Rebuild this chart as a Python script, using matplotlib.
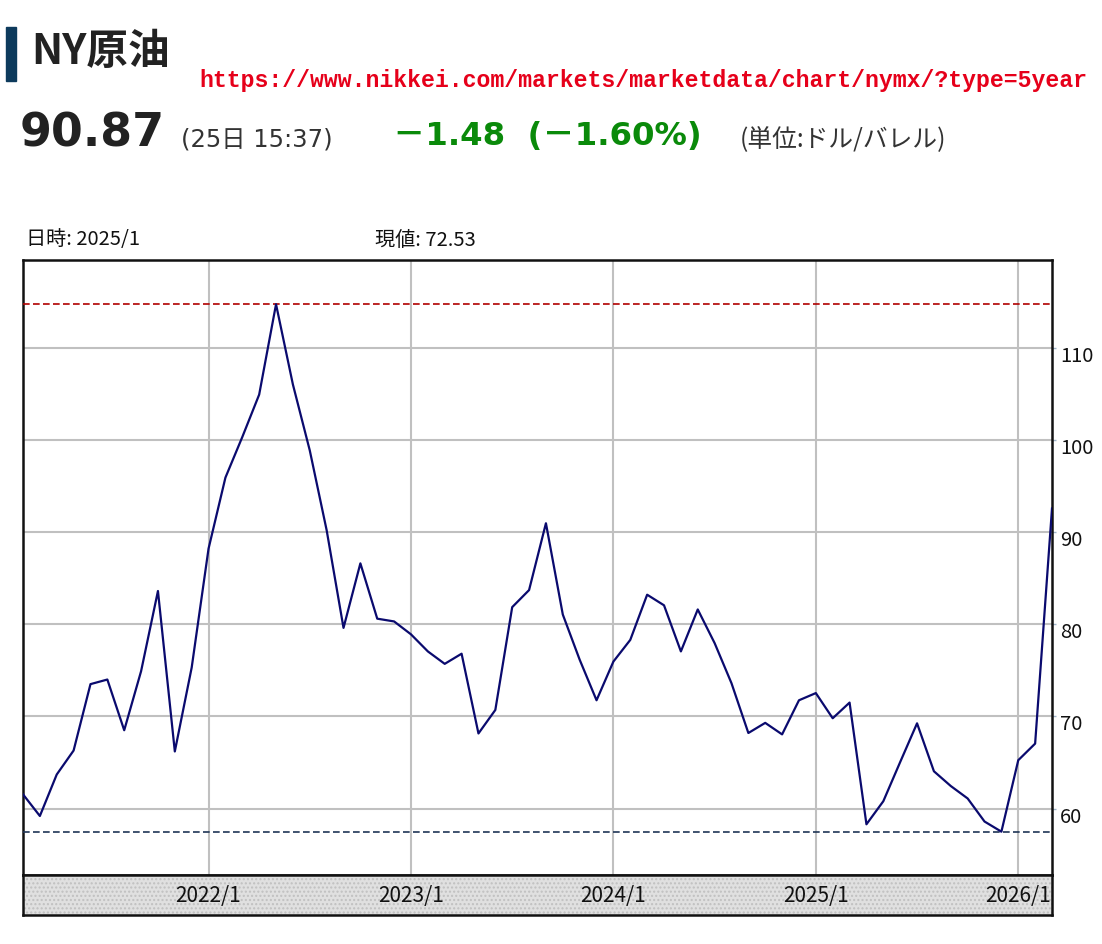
import matplotlib
matplotlib.use("Agg")
import matplotlib.pyplot as plt
from matplotlib.patches import Rectangle
import matplotlib.transforms as mtrans

plt.rcParams['font.family'] = ['Noto Sans CJK JP', 'DejaVu Sans']

# ---- data (monthly, 2021/2 - 2026/3) ----
months = [f"{y}/{m}" for y in range(2021, 2027) for m in range(1, 13)]
months = months[1:months.index("2026/3") + 1]
values = [
    # 2021 Feb-Dec
    61.55, 59.2, 63.7, 66.3, 73.5, 74.0, 68.5, 74.9, 83.6, 66.2, 75.3,
    # 2022
    88.2, 95.9, 100.3, 104.9, 114.7, 106.0, 98.85, 90.2, 79.6, 86.6, 80.6, 80.3,
    # 2023
    78.9, 77.05, 75.7, 76.8, 68.15, 70.7, 81.85, 83.7, 90.95, 81.05, 76.15, 71.75,
    # 2024
    75.95, 78.3, 83.2, 82.05, 77.05, 81.6, 77.95, 73.6, 68.2, 69.3, 68.05, 71.75,
    # 2025
    72.53, 69.8, 71.5, 58.3, 60.8, 65.05, 69.25, 64.05, 62.45, 61.1, 58.6, 57.5,
    # 2026 Jan-Mar
    65.25, 67.05, 92.55,
]
y_ticks = [60, 70, 80, 90, 100, 110]
x_tick_labels = [m for m in months if m.endswith("/1")]

title = "NY原油"
url = "https://www.nikkei.com/markets/marketdata/chart/nymx/?type=5year"
price = "90.87"
stamp = "(25日 15:37)"
change = "－1.48  (－1.60%)"
unit = "(単位:ドル/バレル)"
info_date = "日時: 2025/1"
info_value = "現値: 72.53"

W, H = 1102, 945
fig = plt.figure(figsize=(W / 100, H / 100), dpi=100)
fig.patch.set_facecolor("white")

def fx(px):
    return px / W

def fy(py):
    return 1 - py / H

# ---- header ----
fig.patches.append(Rectangle((fx(6), fy(82)), fx(10) - fx(0), fy(28) - fy(82),
                             transform=fig.transFigure, color="#0d3a5c", zorder=5))
fig.text(fx(31), fy(52), title, fontsize=30, fontweight="bold", color="#222222",
         va="center", ha="left")
fig.text(fx(199), fy(80), url, fontsize=16.7, fontweight="bold", color="#e6001a",
         va="center", ha="left", family=["Liberation Mono", "DejaVu Sans Mono"])
fig.text(fx(20), fy(134), price, fontsize=33, fontweight="bold", color="#222222",
         va="center", ha="left", family=["DejaVu Sans"])
fig.text(fx(181), fy(140), stamp, fontsize=17.5, color="#333333", va="center", ha="left",
         family=["DejaVu Sans", "Noto Sans CJK JP"])
fig.text(fx(393), fy(137), change, fontsize=23.3, fontweight="bold", color="#0a8a0a",
         va="center", ha="left", family=["DejaVu Sans", "Noto Sans CJK JP"])
fig.text(fx(740), fy(140), unit, fontsize=17.8, color="#333333", va="center", ha="left")
fig.text(fx(26), fy(240), info_date, fontsize=14.5, color="#111111", va="center", ha="left")
fig.text(fx(375), fy(240), info_value, fontsize=14.5, color="#111111", va="center", ha="left")

# ---- main chart ----
left, right, top, bottom = 23, 1052, 261, 876
ax = fig.add_axes([fx(left), fy(bottom), fx(right) - fx(left), fy(top) - fy(bottom)])
x = list(range(len(values)))
ax.plot(x, values, color="#0a0a6e", lw=1.6, zorder=4)
ax.axhline(max(values), color="#b00000", lw=1.2, ls=(0, (4, 2)), zorder=3)
ax.axhline(min(values), color="#1f3556", lw=1.2, ls=(0, (4, 2)), zorder=3)

ax.set_xlim(0, len(values) - 1)
ax.set_ylim(52.8, 119.5)
xt = [months.index(m) for m in x_tick_labels]
ax.set_xticks(xt)
ax.set_xticklabels([])
ax.set_yticks(y_ticks)
ax.set_yticklabels([str(v) for v in y_ticks])
ax.yaxis.tick_right()
ax.tick_params(axis="y", which="both", length=3, width=1, color="#9fb3c8",
               labelsize=14.5, pad=3, labelcolor="#111111")
ax.tick_params(axis="x", length=0)
ax.grid(True, color="#c0c0c0", lw=1.5, zorder=0)
for s in ax.spines.values():
    s.set_color("#111111")
    s.set_linewidth(1.8)

# shift y labels slightly below gridlines
offset = mtrans.ScaledTranslation(0, -5 / 100, fig.dpi_scale_trans)
for lbl in ax.get_yticklabels():
    lbl.set_transform(lbl.get_transform() + offset)

# ---- x axis band ----
band_bottom = 916
bx = fig.add_axes([fx(left), fy(band_bottom), fx(right) - fx(left), fy(bottom) - fy(band_bottom)])
bx.set_facecolor("#dedede")
plt.rcParams['hatch.color'] = "#bdbdbd"
bx.add_patch(Rectangle((0, 0), 1, 1, transform=bx.transAxes, facecolor="#e0e0e0",
                       hatch="....", edgecolor="#c0c0c0", lw=0))
bx.set_xlim(ax.get_xlim())
bx.set_ylim(0, 1)
bx.set_yticks([])
bx.set_xticks([])
for m in x_tick_labels:
    bx.text(months.index(m), 0.5, m, ha="center", va="center", fontsize=15,
            color="#111111")
for s in bx.spines.values():
    s.set_color("#111111")
    s.set_linewidth(1.8)

fig.savefig("out.png", dpi=100, facecolor="white")
